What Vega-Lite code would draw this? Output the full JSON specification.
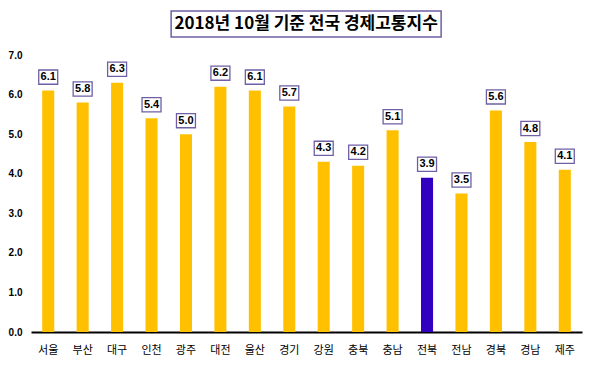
{
  "$schema": "https://vega.github.io/schema/vega-lite/v6.json",
  "background": "white",
  "padding": {"left": 8, "top": 10, "right": 5, "bottom": 5},
  "center": true,
  "spacing": 12,
  "config": {"view": {"stroke": null}},
  "vconcat": [
    {
      "width": 270,
      "height": 26,
      "view": {"stroke": "#6F5FA5", "strokeWidth": 1.5, "fill": "white"},
      "data": {"values": [{"t": "2018년 10월 기준 전국 경제고통지수"}]},
      "mark": {"type": "text", "font": "Noto Sans CJK KR", "fontWeight": "bold", "fontSize": 17, "color": "black", "baseline": "middle", "align": "center"},
      "encoding": {"text": {"field": "t"}}
    },
    {
      "width": 551,
      "height": 277,
      "data": {"values": [
        {"region": "서울", "value": 6.1},
        {"region": "부산", "value": 5.8},
        {"region": "대구", "value": 6.3},
        {"region": "인천", "value": 5.4},
        {"region": "광주", "value": 5.0},
        {"region": "대전", "value": 6.2},
        {"region": "울산", "value": 6.1},
        {"region": "경기", "value": 5.7},
        {"region": "강원", "value": 4.3},
        {"region": "충북", "value": 4.2},
        {"region": "충남", "value": 5.1},
        {"region": "전북", "value": 3.9},
        {"region": "전남", "value": 3.5},
        {"region": "경북", "value": 5.6},
        {"region": "경남", "value": 4.8},
        {"region": "제주", "value": 4.1}
      ]},
      "encoding": {
        "x": {
          "field": "region", "type": "nominal", "sort": null,
          "scale": {"paddingInner": 0.65, "paddingOuter": 0.325},
          "axis": {"title": null, "labelAngle": 0, "ticks": false, "domainColor": "black", "domainWidth": 2, "labelFont": "Noto Sans CJK KR", "labelFontSize": 11, "labelColor": "black", "labelPadding": 12}
        },
        "y": {
          "field": "value", "type": "quantitative",
          "scale": {"domain": [0, 7], "nice": false},
          "axis": {"title": null, "values": [0, 1, 2, 3, 4, 5, 6, 7], "format": ".1f", "grid": false, "domain": false, "ticks": false, "labelFont": "Liberation Sans", "labelFontWeight": "bold", "labelFontSize": 10, "labelColor": "black", "labelPadding": 9}
        }
      },
      "layer": [
        {
          "mark": {"type": "bar"},
          "encoding": {
            "color": {"condition": {"test": "datum.region === '전북'", "value": "#3100C0"}, "value": "#FFC000"}
          }
        },
        {
          "mark": {"type": "point", "shape": "M-1,-0.75H1V0.75H-1Z", "size": 360, "filled": true, "fill": "white", "stroke": "#6F5FA5", "strokeWidth": 1.3, "opacity": 1, "yOffset": -13.5}
        },
        {
          "mark": {"type": "text", "font": "Liberation Sans", "fontWeight": "bold", "fontSize": 11, "color": "black", "yOffset": -13.5, "baseline": "middle"},
          "encoding": {"text": {"field": "value", "type": "quantitative", "format": ".1f"}}
        }
      ]
    }
  ]
}
